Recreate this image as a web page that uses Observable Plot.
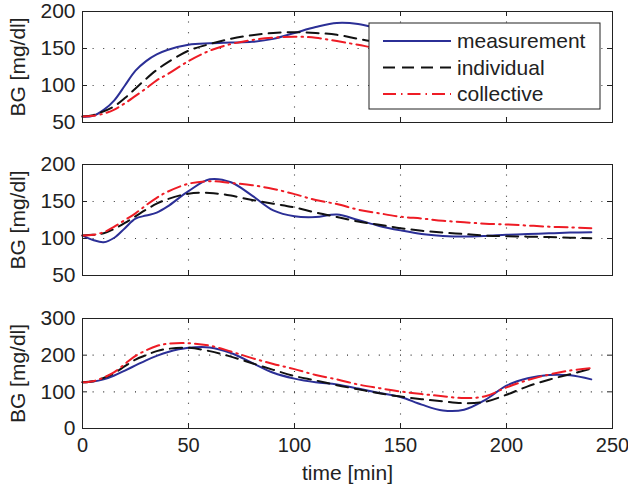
<!DOCTYPE html>
<html><head><meta charset="utf-8">
<script src="https://cdn.jsdelivr.net/npm/d3@7"></script>
<script src="https://cdn.jsdelivr.net/npm/@observablehq/plot@0.6"></script>
<style>
body{margin:0;background:#fff;}
#wrap{position:relative;width:628px;height:489px;font-family:"Liberation Sans",Arial,Helvetica,sans-serif;}
#wrap > svg{position:absolute;left:0;}
</style></head><body><div id="wrap"></div>
<script>
// ---- data ----
const time = [0,5,10,15,20,25,30,35,40,50,60,70,80,90,100,110,120,130,140,150,160,170,180,190,200,210,220,230,240];

const p1Measurement = [58,59,67,80,100,120,133,142,148,155,157,158,159,163,171,179,184.5,183,176,168,162,158,156,154,153,152,151,150,150];
const p1Individual  = [58,60,65,72,83,96,109,121,131,147,156,163,168,171,172,171,168.5,163,158,155,153,152,151,150,150,150,150,150,150];
const p1Collective  = [58,59,62,67.5,76,86,96,107,115,133,147,156,161.5,164.5,166,164.5,160,155,150,148,147,146,146,146,146,146,146,146,146];

const p2Measurement = [104,98,95,101,114,127,131,135,143,164,180,176,158,138,130,129,132.5,125,117,111,106,103.5,102.7,103.5,105,106,107,108,108.6];
const p2Individual  = [104,105,107,113,121,130,139,147,153,160.6,161.5,158,152,147,142,135,129,123,118.5,114,110.5,108,106,104,103,102.5,102,101,100.5];
const p2Collective  = [104,105,108.5,116,125,134,145,155,163,174,177.5,175,172,167,160,152,146.5,139,134,129.5,127,124,122,120,119,117.5,116,115,114];

const p3Measurement = [126,128,134,144.5,158,172,186,198,208,220,221,206,179,152,136,126,120,109,97,86,65,49,51,78,117,137,146,145,134];
const p3Individual  = [126,129,138,151,170,188,200,211,217,220,211,196,178,160,143,131,118,107,96,87,80,74,69,73,92,115,133,148,163];
const p3Collective  = [126,129,139,153.6,176,198,213,225,231,232.5,226,210,192,176,162,146,134,120,110,101,94,88,83,88,112,132,147,158,165];

const seriesNames = ["measurement","individual","collective"];
const xTicks = [0,50,100,150,200,250];
const yTicks1 = [50,100,150,200];
const yTicks2 = [50,100,150,200];
const yTicks3 = [0,100,200,300];
const yLabel = "BG [mg/dl]";
const xLabel = "time [min]";

// ---- styles ----
const styles = {
  measurement: {stroke:"#2b2f96", dash:null},
  individual: {stroke:"#111111", dash:"12,7"},
  collective: {stroke:"#ee1c25", dash:"13,5,1.5,5"}
};
const FONT = '"Liberation Sans",Arial,Helvetica,sans-serif';
const FS = 21;
const W = 628, ML = 82, MR = 16;
const wrap = document.getElementById("wrap");

function panel({series, yDomain, yTicks, top, height, mt, mb, showX}) {
  const ph = height - mt - mb, pw = W - ML - MR;
  const marks = [];
  const inner = (a) => a.filter(d => d !== a[0] && d !== a[a.length-1]);
  marks.push(Plot.gridX(inner(xTicks), {stroke:"#333", strokeOpacity:1, strokeWidth:1.1, strokeDasharray:"1,9.6"}));
  marks.push(Plot.gridY(inner(yTicks), {stroke:"#333", strokeOpacity:1, strokeWidth:1.1, strokeDasharray:"1,9.6"}));
  // inward ticks (MATLAB style)
  marks.push(Plot.ruleX(xTicks, {insetBottom: ph-5, stroke:"#222"}));
  marks.push(Plot.ruleX(xTicks, {insetTop: ph-5, stroke:"#222"}));
  marks.push(Plot.ruleY(yTicks, {insetRight: pw-5, stroke:"#222"}));
  marks.push(Plot.ruleY(yTicks, {insetLeft: pw-5, stroke:"#222"}));
  seriesNames.forEach((name, i) => {
    const vals = series[i];
    const data = time.map((t, k) => ({t, v: vals[k]}));
    marks.push(Plot.line(data, {x:"t", y:"v", stroke: styles[name].stroke, strokeWidth:2,
      strokeDasharray: styles[name].dash || undefined, curve:"catmull-rom"}));
  });
  marks.push(Plot.frame({stroke:"#222", strokeWidth:1}));
  marks.push(Plot.axisY(yTicks, {tickSize:0, tickPadding:7, label:null, fill:"#222"}));
  marks.push(Plot.text([yLabel], {frameAnchor:"left", textAnchor:"middle", dx:-64, rotate:-90, fontSize:FS, fill:"#222"}));
  if (showX) {
    marks.push(Plot.axisX(xTicks, {tickSize:0, tickPadding:9, label:null, fill:"#222", fontSize:20}));
    marks.push(Plot.text([xLabel], {frameAnchor:"bottom", dy:51, fontSize:FS, fill:"#222"}));
  }
  const svg = Plot.plot({
    width: W, height, marginTop: mt, marginBottom: mb, marginLeft: ML, marginRight: MR,
    x: {domain:[0,250], axis: showX ? undefined : null},
    y: {domain: yDomain},
    style: {fontFamily: FONT, fontSize: FS + "px", color:"#222", background:"transparent", overflow:"visible"},
    marks
  });
  svg.style.top = top + "px";
  wrap.appendChild(svg);
}

panel({series:[p1Measurement,p1Individual,p1Collective], yDomain:[50,200], yTicks:yTicks1, top:0, height:132, mt:11, mb:10, showX:false});
panel({series:[p2Measurement,p2Individual,p2Collective], yDomain:[50,200], yTicks:yTicks2, top:150, height:135, mt:14, mb:10, showX:false});
panel({series:[p3Measurement,p3Individual,p3Collective], yDomain:[0,300], yTicks:yTicks3, top:300, height:189, mt:18, mb:61, showX:true});

// ---- legend ----
const leg = d3.select(wrap).append("svg")
  .attr("width", 233).attr("height", 88)
  .style("position","absolute").style("left","368px").style("top","22px")
  .style("font-family", FONT);
leg.append("rect").attr("x",1).attr("y",1).attr("width",231).attr("height",86)
  .attr("fill","#fff").attr("stroke","#222").attr("stroke-width",1);
seriesNames.forEach((name, i) => {
  const y = 19 + i*26.5;
  leg.append("line").attr("x1",15).attr("x2",83).attr("y1",y).attr("y2",y)
    .attr("stroke", styles[name].stroke).attr("stroke-width",2)
    .attr("stroke-dasharray", styles[name].dash || null);
  leg.append("text").attr("x",89).attr("y",y).attr("dy","0.35em")
    .attr("font-size",FS).attr("fill","#222").text(name);
});
</script></body></html>
